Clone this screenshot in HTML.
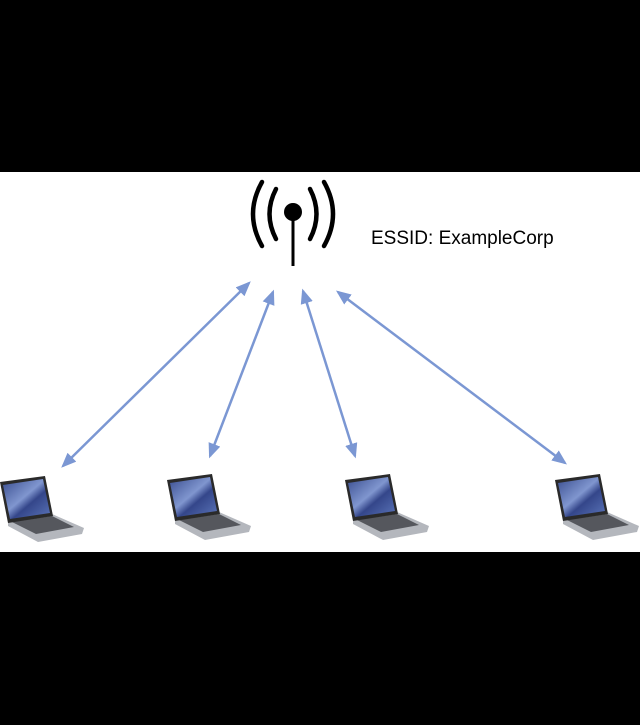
<!DOCTYPE html>
<html><head><style>
html,body{margin:0;padding:0;background:#000;}
svg{display:block;}
</style></head><body>
<svg width="640" height="725" viewBox="0 0 640 725" xmlns="http://www.w3.org/2000/svg">
<defs>
<linearGradient id="scr" x1="0" y1="0" x2="1" y2="1">
<stop offset="0" stop-color="#3a4e90"/><stop offset="0.45" stop-color="#8096cf"/><stop offset="0.6" stop-color="#34468a"/><stop offset="1" stop-color="#5a74b8"/>
</linearGradient>
<marker id="ah" markerWidth="6" markerHeight="5" refX="5" refY="2.5" orient="auto-start-reverse" markerUnits="strokeWidth">
<path d="M0,0 L6,2.5 L0,5 Z" fill="#7b97d3"/>
</marker>
<g id="lap">
<path d="M8,44 L52,38 L84,52 L82,58 L38,66 L8,50 Z" fill="#b4b7bd"/>
<path d="M12,46 L52,40 L74,51 L36,58 Z" fill="#55575d"/>
<path d="M0,6 L45,0 L53,40 L8,47 Z" fill="#2a2a2a"/>
<path d="M3,9 L43,3 L50,37 L10,43 Z" fill="url(#scr)"/>
</g>
</defs>
<rect x="0" y="172" width="640" height="380" fill="#fff"/>
<g fill="none" stroke="#000" stroke-width="4.5" stroke-linecap="round">
<path d="M276,189 Q263,214 276,239"/>
<path d="M262,182 Q244,214 262,246"/>
<path d="M310,189 Q323,214 310,239"/>
<path d="M324,182 Q342,214 324,246"/>
</g>
<line x1="293" y1="212" x2="293" y2="266" stroke="#000" stroke-width="3"/>
<circle cx="293" cy="212" r="9" fill="#000"/>
<text x="371" y="244" font-family="Liberation Sans, sans-serif" font-size="19" fill="#000">ESSID: ExampleCorp</text>
<g stroke="#7b97d3" stroke-width="2.5" marker-start="url(#ah)" marker-end="url(#ah)">
<line x1="249" y1="283" x2="63" y2="466"/>
<line x1="273" y1="292" x2="210" y2="456"/>
<line x1="303" y1="291" x2="355" y2="456"/>
<line x1="338" y1="292" x2="565" y2="463"/>
</g>
<use href="#lap" x="0" y="476"/>
<use href="#lap" x="167" y="474"/>
<use href="#lap" x="345" y="474"/>
<use href="#lap" x="555" y="474"/>
</svg>
</body></html>
